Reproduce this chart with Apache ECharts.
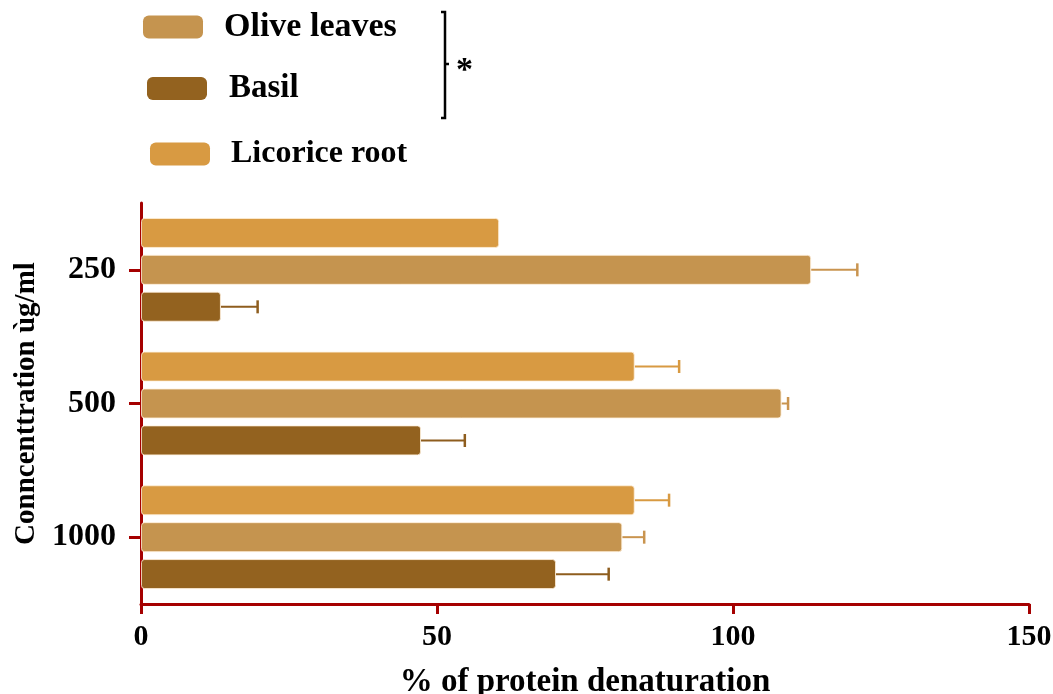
<!DOCTYPE html>
<html>
<head>
<meta charset="utf-8">
<script src="https://cdn.jsdelivr.net/npm/echarts@6/dist/echarts.min.js"></script>
<style>html,body{margin:0;padding:0;background:#fff;}#c{width:1053px;height:694px;}</style>
</head>
<body>
<div id="c"></div>
<script>
// ---- data ----
const categories = ['250', '500', '1000'];
const seriesNames = ['Licorice root', 'Olive leaves', 'Basil'];
const licorice = [60.5, 83.4, 83.4];
const licoriceErr = [0, 7.5, 5.8];
const olive = [113.2, 108.2, 81.3];
const oliveErr = [7.8, 1.1, 3.7];
const basil = [13.5, 47.3, 70.1];
const basilErr = [6.2, 7.4, 8.9];
const xTicks = [0, 50, 100, 150];

const colors = { 'Licorice root': '#D89A42', 'Olive leaves': '#C5944F', 'Basil': '#93621F' };
const errColors = { 'Licorice root': '#D89A42', 'Olive leaves': '#C9944F', 'Basil': '#8E5D1E' };
const FONT = '"Liberation Serif", "Times New Roman", serif';
const AX = '#A50000';

const means = [licorice, olive, basil];
const errs = [licoriceErr, oliveErr, basilErr];
const offsets = [-37, 0, 37];

const chart = echarts.init(document.getElementById('c'), null, { renderer: 'canvas' });

const series = [];
seriesNames.forEach((name, i) => {
  series.push({
    name: name,
    type: 'bar',
    data: means[i],
    barWidth: 30,
    barGap: '23%',
    itemStyle: { color: colors[name], borderRadius: 3, borderColor: 'rgba(255,240,220,0.8)', borderWidth: 1 },
    z: 2
  });
});
seriesNames.forEach((name, i) => {
  const off = offsets[i];
  series.push({
    name: name + ' err',
    type: 'custom',
    data: means[i].map((m, k) => [m, k, errs[i][k]]),
    encode: { x: 0, y: 1 },
    z: 1,
    renderItem: function (params, api) {
      const m = api.value(0), k = api.value(1), e = api.value(2);
      if (!e) return null;
      const p0 = api.coord([m, k]);
      const p1 = api.coord([m + e, k]);
      const y = p0[1] + off;
      const st = { stroke: errColors[name], lineWidth: 2 };
      return {
        type: 'group',
        children: [
          { type: 'line', shape: { x1: p0[0], y1: y, x2: p1[0], y2: y }, style: st },
          { type: 'line', shape: { x1: p1[0], y1: y - 6.5, x2: p1[0], y2: y + 6.5 }, style: { stroke: errColors[name], lineWidth: 2.5 } }
        ]
      };
    }
  });
});

function legendFor(name, left, top, textPad, fs) {
  return {
    data: [name], left: left, top: top, orient: 'vertical',
    itemWidth: 60, itemHeight: 23, icon: 'roundRect',
    itemStyle: { borderWidth: 0 },
    textStyle: { fontFamily: FONT, fontWeight: 'bold', fontSize: fs, color: '#000', padding: [0, 0, 0, textPad] },
    selectedMode: false
  };
}

const option = {
  animation: false,
  backgroundColor: '#fff',
  legend: [
    legendFor('Olive leaves', 138, 5, 16, 34),
    legendFor('Basil', 142, 67, 17, 33),
    legendFor('Licorice root', 145, 133, 16, 32)
  ],
  grid: { left: 141, right: 24, top: 203, bottom: 90, containLabel: false, outerBoundsMode: 'none' },
  xAxis: {
    type: 'value', min: 0, max: 150, interval: 50,
    name: '% of protein denaturation', nameLocation: 'middle', nameGap: 62,
    nameTextStyle: { fontFamily: FONT, fontWeight: 'bold', fontSize: 33, color: '#000' },
    axisLine: { show: true, lineStyle: { color: AX, width: 3 } },
    axisTick: { show: true, length: 10, lineStyle: { color: AX, width: 3 } },
    axisLabel: { margin: 18, fontFamily: FONT, fontWeight: 'bold', fontSize: 30, color: '#000',
      formatter: v => xTicks.indexOf(v) >= 0 ? String(v) : '' },
    splitLine: { show: false }
  },
  yAxis: {
    type: 'category', data: categories, inverse: true,
    name: 'Conncenttration ùg/ml', nameLocation: 'middle', nameRotate: 90, nameGap: 98,
    nameTextStyle: { fontFamily: FONT, fontWeight: 'bold', fontSize: 29, color: '#000' },
    axisLine: { show: true, lineStyle: { color: AX, width: 3 } },
    axisTick: { show: true, alignWithLabel: true, length: 12, lineStyle: { color: AX, width: 3 } },
    axisLabel: { margin: 25, fontFamily: FONT, fontWeight: 'bold', fontSize: 32, color: '#000' },
    splitLine: { show: false }
  },
  graphic: [
    { type: 'polyline', shape: { points: [[441, 12], [445, 12], [445, 118], [441, 118]] }, style: { stroke: '#000', lineWidth: 2.5, fill: null } },
    { type: 'line', shape: { x1: 445, y1: 64, x2: 449, y2: 64 }, style: { stroke: '#000', lineWidth: 2.5 } },
    { type: 'text', left: 456, top: 54, style: { text: '*', fontFamily: FONT, fontWeight: 'bold', fontSize: 34, fill: '#000' } }
  ],
  series: series
};
chart.setOption(option);
</script>
</body>
</html>
